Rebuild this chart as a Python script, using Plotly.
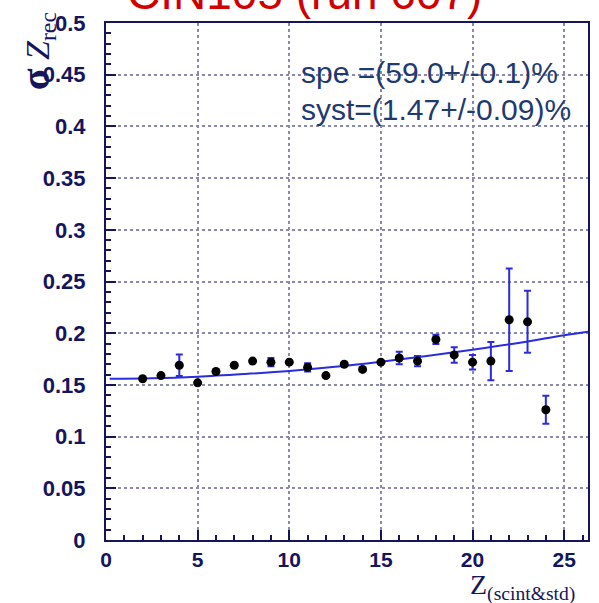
import plotly.graph_objects as go

# Data
z_vals = [2, 3, 4, 5, 6, 7, 8, 9, 10, 11, 12, 13, 14, 15, 16, 17, 18, 19, 20, 21, 22, 23, 24]
sigma_vals = [0.156, 0.159, 0.169, 0.152, 0.163, 0.169, 0.173, 0.172, 0.172, 0.167, 0.159,
              0.170, 0.165, 0.172, 0.176, 0.173, 0.194, 0.179, 0.172, 0.173, 0.213, 0.211, 0.126]
sigma_err = [0, 0, 0.0105, 0, 0, 0, 0, 0.004, 0, 0.004, 0, 0,
             0, 0, 0.006, 0.005, 0.0045, 0.0075, 0.007, 0.0185, 0.0495, 0.030, 0.0135]

fit_x = [0.2, 2.5, 5, 7.5, 10, 12.5, 15, 17.5, 20, 22.5, 25, 26.3]
fit_y = [0.156, 0.1565, 0.158, 0.1605, 0.1635, 0.1675, 0.1725, 0.178, 0.184, 0.1905, 0.198, 0.2015]

x_ticks = [0, 5, 10, 15, 20, 25]

NAVY = "#15155c"
GRID = "#8a8ab0"

W, H = 599, 603
L, R, T, B = 106, 9, 23, 63
pw, ph = W - L - R, H - T - B


def px2paper(px, py):
    return (px - L) / pw, (H - B - py) / ph


fig = go.Figure()
fig.add_trace(go.Scatter(x=fit_x, y=fit_y, mode="lines", line=dict(color="#2b2be0", width=2, shape="spline"),
                         showlegend=False, hoverinfo="skip"))
fig.add_trace(go.Scatter(
    x=z_vals, y=sigma_vals, mode="markers",
    marker=dict(color="black", size=9),
    error_y=dict(type="data", array=sigma_err, visible=True, color="#2b2be0", thickness=2, width=3.5),
    showlegend=False))

axis_font = dict(family="Liberation Sans, Arial", size=22, color=NAVY, weight="bold")

fig.update_xaxes(range=[0, 26.3], tickvals=x_ticks, ticks="inside", ticklen=10, tickwidth=1.5, tickcolor=NAVY,
                 showline=True, linecolor=NAVY, linewidth=2, mirror=True,
                 showgrid=True, gridcolor=GRID, griddash="dot", gridwidth=1.5, zeroline=False,
                 tickfont=dict(family="Liberation Sans, Arial", size=21, color=NAVY, weight="bold"),
                 minor=dict(dtick=1, ticks="inside", ticklen=5, tickcolor=NAVY, tickwidth=1.5, showgrid=False))
fig.update_yaxes(range=[0, 0.5], dtick=0.05, ticks="inside", ticklen=10, tickwidth=1.5, tickcolor=NAVY,
                 showline=True, linecolor=NAVY, linewidth=2, mirror=True,
                 showgrid=True, gridcolor=GRID, griddash="dot", gridwidth=1.5, zeroline=False,
                 tickfont=axis_font, ticklabelstandoff=14,
                 minor=dict(dtick=0.01, ticks="inside", ticklen=5, tickcolor=NAVY, tickwidth=1.5, showgrid=False))

anns = []
tx, ty = px2paper(305, 21)
anns.append(dict(text="CIN105 (run 607)", x=tx, y=ty, xanchor="center", yanchor="bottom",
                 font=dict(family="Liberation Sans, Arial", size=46, color="#d00000")))
sx, sy = px2paper(300, 72)
anns.append(dict(text="spe =(59.0+/-0.1)%", x=sx, y=sy, xanchor="left", yanchor="middle",
                 font=dict(family="Liberation Sans, Arial", size=30, color="#1f3a70")))
sx, sy = px2paper(300, 110)
anns.append(dict(text="syst=(1.47+/-0.09)%", x=sx, y=sy, xanchor="left", yanchor="middle",
                 font=dict(family="Liberation Sans, Arial", size=30, color="#1f3a70")))
lx, ly = px2paper(37, 51)
anns.append(dict(text="<span style='font-size:40px'><b>σ</b></span> <i>Z</i><sub>rec</sub>",
                 x=lx, y=ly, xanchor="center", yanchor="middle",
                 textangle=-90,
                 font=dict(family="Liberation Serif, Times New Roman", size=34, color=NAVY)))
zx, zy = px2paper(470, 587)
anns.append(dict(text="Z<sub>(scint&amp;std)</sub>", x=zx, y=zy, xanchor="left", yanchor="middle",
                 font=dict(family="Liberation Serif, Times New Roman", size=28, color=NAVY)))
for a in anns:
    a.update(xref="paper", yref="paper", showarrow=False)

fig.update_layout(
    width=W, height=H,
    margin=dict(l=L, r=R, t=T, b=B),
    paper_bgcolor="white", plot_bgcolor="white",
    annotations=anns,
)

fig.write_html("out.html")
